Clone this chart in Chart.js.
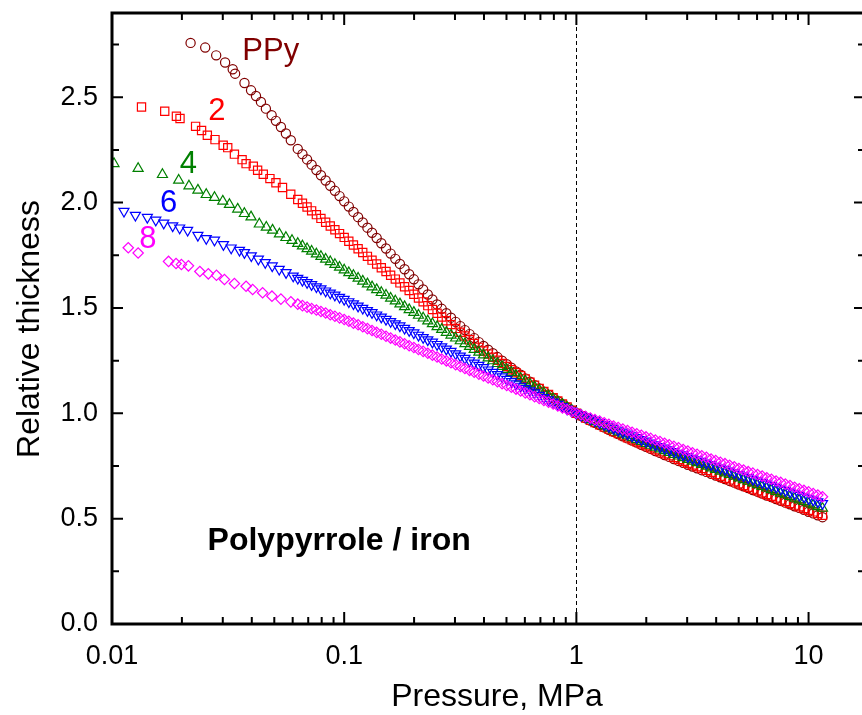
<!DOCTYPE html>
<html>
<head>
<meta charset="utf-8">
<script src="https://cdn.jsdelivr.net/npm/chart.js@4/dist/chart.umd.min.js"></script>
<style>
  html, body { margin: 0; padding: 0; background: #fff; overflow: hidden; }
  canvas { display: block; }
</style>
</head>
<body>
<canvas id="chart" width="872" height="715"></canvas>
<script>
// shared pressure steps (MPa) of the dense part of every run
const pressureGrid = [0.0631, 0.0661, 0.0692, 0.0724, 0.0759, 0.0794, 0.0832, 0.0871, 0.0912, 0.0955,
  0.1, 0.1047, 0.1096, 0.1148, 0.1202, 0.1259, 0.1318, 0.138, 0.1445, 0.1514,
  0.1585, 0.166, 0.1738, 0.182, 0.1905, 0.1995, 0.2089, 0.2188, 0.2291, 0.2399,
  0.2512, 0.263, 0.2754, 0.2884, 0.302, 0.3162, 0.3311, 0.3467, 0.3631, 0.3802,
  0.3981, 0.4169, 0.4365, 0.4571, 0.4786, 0.5012, 0.5248, 0.5495, 0.5754, 0.6026,
  0.631, 0.6607, 0.6918, 0.7244, 0.7586, 0.7943, 0.8318, 0.871, 0.912, 0.955,
  1, 1.047, 1.096, 1.148, 1.202, 1.259, 1.318, 1.38, 1.445, 1.514,
  1.585, 1.66, 1.738, 1.82, 1.905, 1.995, 2.089, 2.188, 2.291, 2.399,
  2.512, 2.63, 2.754, 2.884, 3.02, 3.162, 3.311, 3.467, 3.631, 3.802,
  3.981, 4.169, 4.365, 4.571, 4.786, 5.012, 5.248, 5.495, 5.754, 6.026,
  6.31, 6.607, 6.918, 7.244, 7.586, 7.943, 8.318, 8.71, 9.12, 9.55,
  10, 10.47, 10.96, 11.48];

// PPy
const ppyStartP = [0.0218, 0.0252, 0.0281, 0.0307, 0.0331, 0.0339, 0.0372, 0.0397, 0.0417, 0.0438, 0.046, 0.0487, 0.0508, 0.0534, 0.0561, 0.0589];
const ppyStartY = [2.758, 2.736, 2.699, 2.665, 2.633, 2.612, 2.568, 2.533, 2.506, 2.478, 2.446, 2.415, 2.388, 2.359, 2.328, 2.296];
const ppyGridY = [2.255, 2.230, 2.205, 2.180, 2.155, 2.130, 2.105, 2.080, 2.056, 2.031,
  2.006, 1.981, 1.956, 1.931, 1.906, 1.881, 1.857, 1.832, 1.807, 1.782,
  1.758, 1.733, 1.709, 1.684, 1.660, 1.636, 1.612, 1.588, 1.564, 1.540,
  1.517, 1.496, 1.475, 1.454, 1.434, 1.414, 1.395, 1.376, 1.357, 1.338,
  1.320, 1.302, 1.285, 1.267, 1.250, 1.233, 1.216, 1.199, 1.183, 1.166,
  1.150, 1.134, 1.118, 1.102, 1.087, 1.072, 1.057, 1.042, 1.028, 1.014,
  1.000, 0.988, 0.977, 0.966, 0.955, 0.944, 0.933, 0.922, 0.912, 0.901,
  0.891, 0.881, 0.871, 0.861, 0.851, 0.841, 0.831, 0.821, 0.812, 0.802,
  0.793, 0.783, 0.774, 0.765, 0.756, 0.747, 0.739, 0.730, 0.722, 0.713,
  0.705, 0.696, 0.688, 0.679, 0.671, 0.662, 0.654, 0.645, 0.636, 0.628,
  0.619, 0.610, 0.602, 0.593, 0.585, 0.576, 0.568, 0.559, 0.551, 0.542,
  0.533, 0.525, 0.516, 0.507];

// 2
const s2StartP = [0.0134, 0.01687, 0.01894, 0.01963, 0.02291, 0.02431, 0.02574, 0.02777, 0.03012, 0.03151, 0.03367, 0.03633, 0.0378, 0.04061, 0.04238, 0.04483, 0.04788, 0.05082, 0.05424, 0.05888];
const s2StartY = [2.454, 2.434, 2.410, 2.399, 2.362, 2.342, 2.320, 2.299, 2.272, 2.261, 2.230, 2.204, 2.185, 2.173, 2.154, 2.135, 2.114, 2.094, 2.072, 2.040];
const s2GridY = [2.015, 1.997, 1.979, 1.961, 1.943, 1.925, 1.907, 1.889, 1.871, 1.853,
  1.835, 1.817, 1.799, 1.781, 1.763, 1.745, 1.727, 1.709, 1.691, 1.673,
  1.655, 1.637, 1.619, 1.601, 1.583, 1.565, 1.547, 1.529, 1.511, 1.493,
  1.475, 1.457, 1.439, 1.421, 1.403, 1.385, 1.367, 1.349, 1.331, 1.313,
  1.296, 1.281, 1.266, 1.252, 1.237, 1.222, 1.207, 1.193, 1.178, 1.163,
  1.148, 1.133, 1.118, 1.104, 1.089, 1.074, 1.059, 1.045, 1.030, 1.015,
  1.000, 0.989, 0.978, 0.967, 0.956, 0.946, 0.935, 0.925, 0.914, 0.904,
  0.894, 0.884, 0.874, 0.865, 0.855, 0.846, 0.836, 0.827, 0.817, 0.808,
  0.799, 0.790, 0.781, 0.772, 0.763, 0.755, 0.746, 0.738, 0.729, 0.720,
  0.710, 0.701, 0.692, 0.684, 0.675, 0.666, 0.657, 0.649, 0.640, 0.632,
  0.623, 0.615, 0.606, 0.598, 0.589, 0.581, 0.572, 0.564, 0.556, 0.548,
  0.540, 0.532, 0.524, 0.516];

// 4
const s4StartP = [0.0102, 0.01296, 0.01649, 0.01937, 0.02145, 0.02344, 0.02546, 0.02764, 0.03, 0.03205, 0.03478, 0.03716, 0.0397, 0.0431, 0.0462, 0.04913, 0.0526, 0.05609, 0.0596];
const s4StartY = [2.185, 2.162, 2.133, 2.106, 2.079, 2.059, 2.038, 2.024, 2.007, 1.991, 1.969, 1.948, 1.932, 1.898, 1.883, 1.869, 1.851, 1.834, 1.820];
const s4GridY = [1.806, 1.794, 1.781, 1.769, 1.756, 1.744, 1.731, 1.719, 1.706, 1.693,
  1.680, 1.667, 1.654, 1.641, 1.627, 1.614, 1.600, 1.587, 1.573, 1.560,
  1.546, 1.533, 1.519, 1.506, 1.492, 1.479, 1.465, 1.452, 1.438, 1.425,
  1.411, 1.398, 1.384, 1.371, 1.357, 1.344, 1.330, 1.317, 1.303, 1.290,
  1.277, 1.263, 1.249, 1.236, 1.222, 1.208, 1.194, 1.180, 1.166, 1.153,
  1.139, 1.125, 1.111, 1.097, 1.083, 1.069, 1.055, 1.042, 1.028, 1.014,
  1.000, 0.990, 0.980, 0.970, 0.960, 0.950, 0.940, 0.930, 0.921, 0.911,
  0.902, 0.893, 0.884, 0.875, 0.866, 0.857, 0.848, 0.839, 0.831, 0.822,
  0.814, 0.805, 0.797, 0.789, 0.781, 0.773, 0.765, 0.757, 0.749, 0.741,
  0.733, 0.725, 0.717, 0.709, 0.701, 0.693, 0.685, 0.677, 0.669, 0.661,
  0.653, 0.645, 0.637, 0.629, 0.621, 0.613, 0.605, 0.597, 0.589, 0.581,
  0.573, 0.565, 0.557, 0.549];

// 6
const s6StartP = [0.01126, 0.01261, 0.0142, 0.01544, 0.01671, 0.01826, 0.01956, 0.02117, 0.02344, 0.02546, 0.02764, 0.0302, 0.0326, 0.0354, 0.0372, 0.0398, 0.0427, 0.0457, 0.049, 0.0525, 0.0562, 0.0603];
const s6StartY = [1.959, 1.940, 1.930, 1.917, 1.903, 1.890, 1.880, 1.869, 1.845, 1.830, 1.822, 1.801, 1.785, 1.774, 1.763, 1.748, 1.732, 1.716, 1.700, 1.684, 1.668, 1.652];
const s6GridY = [1.641, 1.631, 1.621, 1.611, 1.601, 1.591, 1.581, 1.571, 1.561, 1.551,
  1.541, 1.530, 1.520, 1.509, 1.499, 1.488, 1.478, 1.467, 1.457, 1.446,
  1.436, 1.425, 1.415, 1.404, 1.393, 1.382, 1.371, 1.360, 1.349, 1.338,
  1.327, 1.316, 1.305, 1.294, 1.283, 1.272, 1.261, 1.250, 1.239, 1.228,
  1.217, 1.206, 1.195, 1.184, 1.173, 1.162, 1.151, 1.140, 1.129, 1.118,
  1.107, 1.097, 1.086, 1.075, 1.064, 1.054, 1.043, 1.032, 1.021, 1.011,
  1.000, 0.991, 0.983, 0.974, 0.965, 0.956, 0.947, 0.938, 0.929, 0.920,
  0.911, 0.902, 0.893, 0.885, 0.876, 0.868, 0.859, 0.851, 0.843, 0.835,
  0.827, 0.819, 0.811, 0.803, 0.795, 0.787, 0.780, 0.772, 0.764, 0.757,
  0.749, 0.741, 0.734, 0.726, 0.718, 0.710, 0.703, 0.695, 0.687, 0.680,
  0.672, 0.664, 0.657, 0.649, 0.641, 0.634, 0.626, 0.618, 0.611, 0.603,
  0.595, 0.588, 0.580, 0.572];

// 8
const s8StartP = [0.01175, 0.01296, 0.01752, 0.01887, 0.0199, 0.02134, 0.0239, 0.02599, 0.02818, 0.0305, 0.03367, 0.0378, 0.04034, 0.04453, 0.04885, 0.05339, 0.05893];
const s8StartY = [1.786, 1.761, 1.721, 1.711, 1.706, 1.700, 1.673, 1.662, 1.655, 1.635, 1.616, 1.603, 1.588, 1.572, 1.556, 1.542, 1.529];
const s8GridY = [1.518, 1.511, 1.504, 1.497, 1.490, 1.483, 1.476, 1.468, 1.461, 1.453,
  1.445, 1.437, 1.428, 1.420, 1.411, 1.402, 1.393, 1.384, 1.375, 1.366,
  1.357, 1.348, 1.339, 1.330, 1.321, 1.312, 1.303, 1.294, 1.285, 1.276,
  1.267, 1.258, 1.249, 1.240, 1.231, 1.222, 1.213, 1.204, 1.195, 1.186,
  1.177, 1.168, 1.159, 1.150, 1.141, 1.132, 1.124, 1.115, 1.106, 1.097,
  1.088, 1.079, 1.070, 1.061, 1.053, 1.044, 1.035, 1.026, 1.018, 1.009,
  1.000, 0.993, 0.985, 0.978, 0.970, 0.963, 0.955, 0.948, 0.940, 0.933,
  0.925, 0.918, 0.910, 0.903, 0.896, 0.888, 0.881, 0.873, 0.866, 0.858,
  0.851, 0.843, 0.836, 0.828, 0.821, 0.813, 0.806, 0.798, 0.791, 0.783,
  0.776, 0.768, 0.761, 0.753, 0.746, 0.738, 0.731, 0.723, 0.716, 0.709,
  0.702, 0.694, 0.687, 0.679, 0.672, 0.664, 0.657, 0.649, 0.642, 0.634,
  0.627, 0.619, 0.612, 0.604];

// axes
const xMajor = [0.01, 0.1, 1, 10];
const xTickLabels = ['0.01', '0.1', '1', '10'];
const xMinor = [0.02, 0.03, 0.04, 0.05, 0.06, 0.07, 0.08, 0.09,
  0.2, 0.3, 0.4, 0.5, 0.6, 0.7, 0.8, 0.9, 2, 3, 4, 5, 6, 7, 8, 9];
const yMajor = [0, 0.5, 1, 1.5, 2, 2.5];
const yMinor = [0.25, 0.75, 1.25, 1.75, 2.25, 2.75];

const FONT = 'Arial, "Liberation Sans", sans-serif';

function points(startP, startY, gridY) {
  return startP.map((p, i) => ({ x: p, y: startY[i] }))
    .concat(pressureGrid.map((p, i) => ({ x: p, y: gridY[i] })));
}

function series(label, data, color, style, radius, rotation) {
  return {
    label: label,
    data: data,
    showLine: false,
    pointStyle: style,
    pointRadius: radius,
    pointRotation: rotation || 0,
    pointBorderWidth: 1.2,
    pointBorderColor: color,
    pointBackgroundColor: 'rgba(0,0,0,0)',
    pointHoverRadius: radius
  };
}

const datasets = [
  series('PPy', points(ppyStartP, ppyStartY, ppyGridY), '#800000', 'circle', 4.6),
  series('2', points(s2StartP, s2StartY, s2GridY), '#ff0000', 'rect', 5.8),
  series('4', points(s4StartP, s4StartY, s4GridY), '#008000', 'triangle', 5.8),
  series('6', points(s6StartP, s6StartY, s6GridY), '#0000ff', 'triangle', 5.8, 180),
  series('8', points(s8StartP, s8StartY, s8GridY), '#ff00ff', 'rectRot', 5.2)
].reverse(); // last series drawn on top

const decor = {
  id: 'decor',
  beforeDatasetsDraw(chart) {
    const { ctx, chartArea: a, scales: { x } } = chart;
    const px = Math.round(x.getPixelForValue(1)) + 0.5;
    ctx.save();
    ctx.strokeStyle = '#000';
    ctx.lineWidth = 1;
    ctx.setLineDash([4, 3]);
    ctx.beginPath();
    ctx.moveTo(px, a.top);
    ctx.lineTo(px, a.bottom);
    ctx.stroke();
    ctx.restore();
  },
  afterDraw(chart) {
    const { ctx, chartArea: a, scales: { x, y } } = chart;
    ctx.save();
    ctx.strokeStyle = '#000';
    ctx.lineWidth = 2;
    const tx = (v, len) => {
      const p = x.getPixelForValue(v);
      ctx.beginPath();
      ctx.moveTo(p, a.bottom); ctx.lineTo(p, a.bottom - len);
      ctx.moveTo(p, a.top); ctx.lineTo(p, a.top + len);
      ctx.stroke();
    };
    const ty = (v, len) => {
      const p = y.getPixelForValue(v);
      ctx.beginPath();
      ctx.moveTo(a.left, p); ctx.lineTo(a.left + len, p);
      ctx.moveTo(a.right, p); ctx.lineTo(a.right - len, p);
      ctx.stroke();
    };
    xMajor.forEach(v => tx(v, 12));
    xMinor.forEach(v => tx(v, 7));
    yMajor.forEach(v => ty(v, 11));
    yMinor.forEach(v => ty(v, 7));
    ctx.lineWidth = 3;
    ctx.strokeRect(a.left, a.top, a.right - a.left, a.bottom - a.top);

    // axis titles
    ctx.fillStyle = '#000';
    ctx.font = '32px ' + FONT;
    ctx.textAlign = 'center';
    ctx.textBaseline = 'alphabetic';
    ctx.fillText('Pressure, MPa', 497, 706);
    ctx.save();
    ctx.translate(39, 329);
    ctx.rotate(-Math.PI / 2);
    ctx.fillText('Relative thickness', 0, 0);
    ctx.restore();

    // annotations
    ctx.textAlign = 'left';
    ctx.font = 'bold 32px ' + FONT;
    ctx.fillText('Polypyrrole / iron', x.getPixelForValue(0.0258), y.getPixelForValue(0.351));
    ctx.font = '31px ' + FONT;
    const tags = [
      ['PPy', 0.0364, 2.675, '#800000'],
      ['2', 0.0260, 2.391, '#ff0000'],
      ['4', 0.0196, 2.139, '#008000'],
      ['6', 0.0161, 1.954, '#0000ff'],
      ['8', 0.0131, 1.784, '#ff00ff']
    ];
    tags.forEach(t => {
      ctx.fillStyle = t[3];
      ctx.fillText(t[0], x.getPixelForValue(t[1]), y.getPixelForValue(t[2]));
    });
    ctx.restore();
  }
};

new Chart(document.getElementById('chart'), {
  type: 'scatter',
  data: { datasets: datasets },
  options: {
    responsive: false,
    devicePixelRatio: 1,
    animation: false,
    events: [],
    layout: { padding: { top: 13, right: 3, left: 0, bottom: 0 } },
    plugins: { legend: { display: false }, tooltip: { enabled: false } },
    scales: {
      x: {
        type: 'logarithmic',
        min: 0.01,
        max: 17.5,
        grid: { display: false, drawTicks: false },
        border: { display: false },
        afterBuildTicks: axis => { axis.ticks = xMajor.map(v => ({ value: v })); },
        afterFit: scale => {
          scale.height = 91;
          scale.paddingLeft = 0;
          scale.paddingRight = 0;
        },
        ticks: {
          autoSkip: false,
          maxRotation: 0,
          padding: 16,
          color: '#000',
          font: { family: FONT, size: 27 },
          callback: (v, i) => xTickLabels[i]
        }
      },
      y: {
        min: 0,
        max: 2.9,
        grid: { display: false, drawTicks: false },
        border: { display: false },
        afterBuildTicks: axis => { axis.ticks = yMajor.map(v => ({ value: v })); },
        afterFit: scale => {
          scale.width = 112;
          scale.paddingTop = 0;
          scale.paddingBottom = 0;
        },
        ticks: {
          autoSkip: false,
          padding: 14,
          color: '#000',
          font: { family: FONT, size: 27 },
          callback: v => v.toFixed(1)
        }
      }
    }
  },
  plugins: [decor]
});
</script>
</body>
</html>
